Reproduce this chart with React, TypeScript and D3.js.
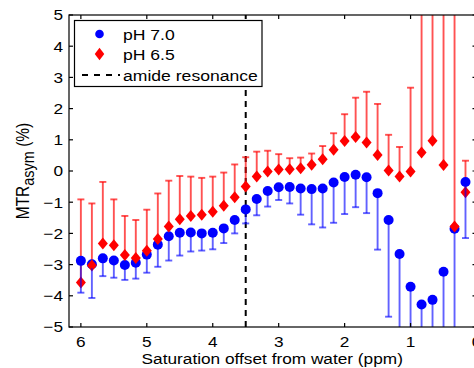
import React, { useEffect, useRef } from "react";
import * as d3 from "d3";

// saturation offsets (ppm), one point per 1/6 ppm
const offsets = [
  6, 5.833, 5.667, 5.5, 5.333, 5.167, 5, 4.833, 4.667, 4.5, 4.333, 4.167,
  4, 3.833, 3.667, 3.5, 3.333, 3.167, 3, 2.833, 2.667, 2.5, 2.333, 2.167,
  2, 1.833, 1.667, 1.5, 1.333, 1.167, 1, 0.833, 0.667, 0.5, 0.333, 0.167,
];
// MTRasym (%) at pH 7.0 and its error (drawn downwards)
const ph70 = [
  -2.88, -2.99, -2.8, -2.87, -3.01, -2.94, -2.68, -2.36, -2.09, -1.98, -1.97, -2.0,
  -1.98, -1.84, -1.57, -1.23, -0.9, -0.64, -0.52, -0.51, -0.56, -0.58, -0.56, -0.37,
  -0.19, -0.12, -0.2, -0.71, -1.57, -2.66, -3.71, -4.28, -4.13, -3.23, -1.85, -0.35,
];
const ph70Err = [
  1.02, 1.08, 0.57, 0.55, 0.48, 0.51, 0.58, 0.71, 0.78, 0.73, 0.61, 0.55,
  0.53, 0.47, 0.43, 0.45, 0.52, 0.5, 0.41, 0.53, 0.84, 1.13, 1.25, 1.29,
  1.19, 1.04, 1.15, 1.81, 3.1, 3.0, 2.5, 2.0, 2.0, 2.5, 3.5, 1.8,
];
// MTRasym (%) at pH 6.5 and its error (drawn upwards)
const ph65 = [
  -3.57, -3.03, -2.32, -2.38, -2.69, -2.79, -2.56, -2.18, -1.78, -1.55, -1.44, -1.4,
  -1.31, -1.11, -0.84, -0.5, -0.18, -0.02, 0.05, 0.06, 0.09, 0.2, 0.38, 0.68,
  0.96, 1.09, 0.91, 0.51, 0.02, -0.18, -0.02, 0.59, 0.97, 0.19, -1.78, -0.68,
];
const ph65Err = [
  2.66, 1.99, 1.97, 1.47, 1.25, 1.22, 1.32, 1.46, 1.47, 1.39, 1.26, 1.18,
  1.13, 1.06, 1.05, 0.94, 0.8, 0.67, 0.49, 0.35, 0.34, 0.36, 0.42, 0.53,
  0.86, 1.26, 1.63, 1.64, 1.14, 0.95, 2.69, 5.0, 5.0, 5.5, 7.5, 1.01,
];
const amideOffset = 3.5;
const xTicks = [6, 5, 4, 3, 2, 1, 0];
const yTicks = [-5, -4, -3, -2, -1, 0, 1, 2, 3, 4, 5];
const legendLabels = ["pH 7.0", "pH 6.5", "amide resonance"];

const W = 474;
const H = 368;
const SX = 1.15; // the picture's text is a bit wider than plain Arial
const FONT = "'Liberation Sans', Arial, Helvetica, sans-serif";
const diamond = "M0,-6L5,0L0,6L-5,0Z";

const App = () => {
  const ref = useRef<SVGSVGElement>(null);

  useEffect(() => {
    const svg = d3.select(ref.current);
    svg.selectAll("*").remove();

    const x = d3.scaleLinear().domain([6.18, 0]).range([69, 476.5]);
    const y = d3.scaleLinear().domain([-5, 5]).range([327, 15]);
    const [x0, x1] = x.range();
    const [y0, y1] = y.range();

    svg
      .append("defs")
      .append("clipPath")
      .attr("id", "plotclip")
      .append("rect")
      .attr("x", x0)
      .attr("y", y1)
      .attr("width", x1 - x0)
      .attr("height", y0 - y1);

    const plot = svg.append("g").attr("clip-path", "url(#plotclip)");

    // dashed amide line
    plot
      .append("line")
      .attr("x1", x(amideOffset))
      .attr("x2", x(amideOffset))
      .attr("y1", y0)
      .attr("y2", y1)
      .attr("stroke", "#000")
      .attr("stroke-width", 2)
      .attr("stroke-dasharray", "6,5");

    const red = offsets.map((o, i) => ({ o, v: ph65[i], e: ph65Err[i] }));
    const blue = offsets.map((o, i) => ({ o, v: ph70[i], e: ph70Err[i] }));

    // red error bars (upper side)
    const rb = plot.append("g").attr("stroke", "rgba(255,0,0,0.68)").attr("stroke-width", 1.9);
    rb.selectAll("line.bar")
      .data(red)
      .join("line")
      .attr("class", "bar")
      .attr("x1", (d) => x(d.o))
      .attr("x2", (d) => x(d.o))
      .attr("y1", (d) => y(d.v))
      .attr("y2", (d) => y(d.v + d.e));
    rb.selectAll("line.cap")
      .data(red)
      .join("line")
      .attr("class", "cap")
      .attr("x1", (d) => x(d.o) - 3.5)
      .attr("x2", (d) => x(d.o) + 3.5)
      .attr("y1", (d) => y(d.v + d.e))
      .attr("y2", (d) => y(d.v + d.e));

    // blue dots
    plot
      .selectAll("circle.ph70")
      .data(blue)
      .join("circle")
      .attr("class", "ph70")
      .attr("cx", (d) => x(d.o))
      .attr("cy", (d) => y(d.v))
      .attr("r", 5)
      .attr("fill", "#0000ff");

    // red diamonds
    plot
      .selectAll("path.ph65")
      .data(red)
      .join("path")
      .attr("class", "ph65")
      .attr("d", diamond)
      .attr("transform", (d) => `translate(${x(d.o)},${y(d.v)})`)
      .attr("fill", "#ff0000");

    // blue error bars (lower side)
    const bb = plot.append("g").attr("stroke", "rgba(0,0,255,0.62)").attr("stroke-width", 1.9);
    bb.selectAll("line.bar")
      .data(blue)
      .join("line")
      .attr("class", "bar")
      .attr("x1", (d) => x(d.o))
      .attr("x2", (d) => x(d.o))
      .attr("y1", (d) => y(d.v) + 4)
      .attr("y2", (d) => y(d.v - d.e));
    bb.selectAll("line.cap")
      .data(blue)
      .join("line")
      .attr("class", "cap")
      .attr("x1", (d) => x(d.o) - 3.5)
      .attr("x2", (d) => x(d.o) + 3.5)
      .attr("y1", (d) => y(d.v - d.e))
      .attr("y2", (d) => y(d.v - d.e));

    // axes box with inward ticks
    const ax = svg.append("g").attr("stroke", "#000").attr("stroke-width", 1.2).attr("fill", "none");
    ax.append("rect")
      .attr("x", x0)
      .attr("y", y1)
      .attr("width", x1 - x0)
      .attr("height", y0 - y1);
    const tl = 4;
    xTicks.forEach((t) => {
      ax.append("line").attr("x1", x(t)).attr("x2", x(t)).attr("y1", y0).attr("y2", y0 - tl);
      ax.append("line").attr("x1", x(t)).attr("x2", x(t)).attr("y1", y1).attr("y2", y1 + tl);
    });
    yTicks.forEach((t) => {
      ax.append("line").attr("x1", x0).attr("x2", x0 + tl).attr("y1", y(t)).attr("y2", y(t));
      ax.append("line").attr("x1", x1).attr("x2", x1 - tl).attr("y1", y(t)).attr("y2", y(t));
    });

    const txt = svg.append("g").attr("font-family", FONT).attr("font-size", 15).attr("fill", "#000");
    const fmt = (t: number) => (t < 0 ? "\u2212" + Math.abs(t) : String(t));

    txt
      .selectAll("text.xt")
      .data(xTicks)
      .join("text")
      .attr("class", "xt")
      .attr("text-anchor", "middle")
      .attr("transform", (t) => `translate(${x(t)},${y0 + 20}) scale(${SX},1)`)
      .text(fmt);

    txt
      .selectAll("text.yt")
      .data(yTicks)
      .join("text")
      .attr("class", "yt")
      .attr("text-anchor", "end")
      .attr("transform", (t) => `translate(${x0 - 6},${y(t) + 5.3}) scale(${SX},1)`)
      .text(fmt);

    txt
      .append("text")
      .attr("text-anchor", "middle")
      .attr("transform", `translate(${(x0 + 476.5) / 2 - 0.5},${H - 4}) scale(${SX},1)`)
      .text("Saturation offset from water (ppm)");

    const yl = txt
      .append("text")
      .attr("text-anchor", "middle")
      .attr("font-size", 15.5)
      .attr("transform", `translate(28.5,${(y0 + y1) / 2}) scale(${SX},1) rotate(-90)`);
    yl.append("tspan").text("MTR");
    yl.append("tspan").attr("font-size", 14.5).attr("dy", 4.5).text("asym");
    yl.append("tspan").attr("dy", -4.5).text(" (%)");

    // legend
    const lg = svg.append("g");
    lg.append("rect")
      .attr("x", 74.5)
      .attr("y", 20.5)
      .attr("width", 187.5)
      .attr("height", 66)
      .attr("fill", "#fff")
      .attr("stroke", "#000")
      .attr("stroke-width", 1.2);
    const rowY = [34, 54, 75];
    lg.append("circle").attr("cx", 99.5).attr("cy", rowY[0]).attr("r", 4.3).attr("fill", "#0000ff");
    lg.append("path")
      .attr("d", diamond)
      .attr("transform", `translate(99.5,${rowY[1]}) scale(0.95,1.05)`)
      .attr("fill", "#ff0000");
    lg.append("line")
      .attr("x1", 82)
      .attr("x2", 120)
      .attr("y1", rowY[2])
      .attr("y2", rowY[2])
      .attr("stroke", "#000")
      .attr("stroke-width", 2)
      .attr("stroke-dasharray", "6,6");
    lg.selectAll("text")
      .data(legendLabels)
      .join("text")
      .attr("font-family", FONT)
      .attr("font-size", 15.3)
      .attr("transform", (d, i) => `translate(123,${rowY[i] + 6}) scale(${SX},1)`)
      .text((d) => d);
  }, []);

  return (
    <div style={{ position: "absolute", left: 0, top: 0 }}>
      <svg ref={ref} width={W} height={H} style={{ display: "block", background: "#fff" }} />
    </div>
  );
};

export default App;
